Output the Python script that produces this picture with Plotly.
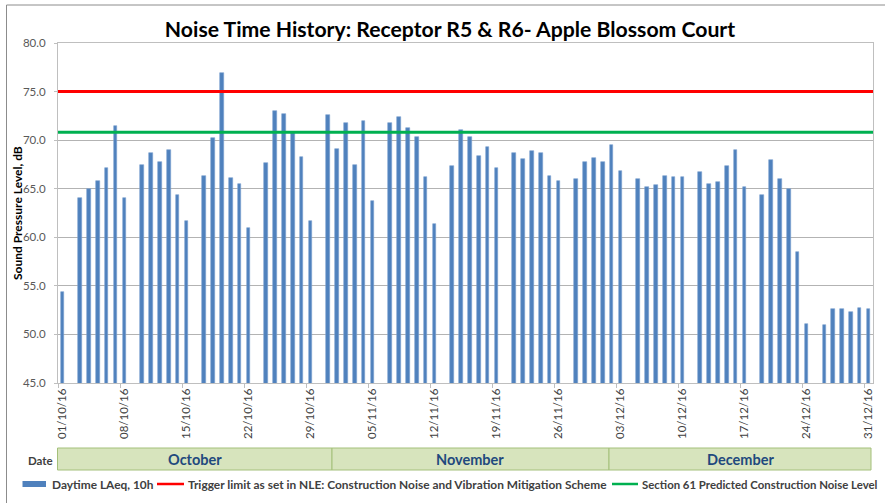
import pandas as pd
import plotly.graph_objects as go

# ---------------- data ----------------
dates = pd.date_range("2016-10-01", "2016-12-31", freq="D")
laeq_values = [
    54.4, None, 64.0, 65.0, 65.8, 67.1, 71.5, 64.0, None, 67.4,
    68.7, 67.7, 69.0, 64.4, 61.7, None, 66.3, 70.2, 76.9, 66.1,
    65.5, 61.0, None, 67.6, 73.0, 72.7, 70.7, 68.3, 61.7, None,
    72.6, 69.1, 71.8, 67.4, 72.0, 63.7, None, 71.8, 72.4, 71.3,
    70.3, 66.2, 61.4, None, 67.3, 71.0, 70.3, 68.4, 69.3, 67.1,
    None, 68.7, 68.1, 68.9, 68.7, 66.3, 65.8, None, 66.0, 67.8,
    68.2, 67.8, 69.5, 66.8, None, 66.0, 65.2, 65.4, 66.3, 66.2,
    66.2, None, 66.7, 65.5, 65.7, 67.3, 69.0, 65.2, None, 64.4,
    68.0, 66.0, 65.0, 58.5, 51.1, None, 51.0, 52.6, 52.6, 52.3,
    52.7, 52.6,
]
TRIGGER_LIMIT = 75.0
SECTION61_LEVEL = 70.8

tick_dates = ["2016-10-01", "2016-10-08", "2016-10-15", "2016-10-22", "2016-10-29",
              "2016-11-05", "2016-11-12", "2016-11-19", "2016-11-26", "2016-12-03",
              "2016-12-10", "2016-12-17", "2016-12-24", "2016-12-31"]
tick_labels = ["01/10/16", "08/10/16", "15/10/16", "22/10/16", "29/10/16",
               "05/11/16", "12/11/16", "19/11/16", "26/11/16", "03/12/16",
               "10/12/16", "17/12/16", "24/12/16", "31/12/16"]

months = ["October", "November", "December"]
series_names = ["Daytime LAeq, 10h",
                "Trigger limit as set in NLE: Construction Noise and Vibration Mitigation Scheme",
                "Section 61 Predicted Construction Noise Level"]

# ---------------- layout helpers ----------------
W, H = 885, 503
L, R, T, B = 58, 873, 43, 383
FONT = "Lato, 'Open Sans', sans-serif"


def px(x):
    return (x - L) / (R - L)


def py(y):
    return (B - y) / (B - T)


DAY_MS = 86400000

fig = go.Figure()
fig.add_trace(go.Bar(
    x=dates, y=laeq_values, name=series_names[0],
    width=0.4 * DAY_MS,
    marker=dict(color="#4F81BD", line=dict(color="#7A9FD0", width=0.6)),
    showlegend=False,
))

shapes = []
# threshold lines spanning the full plot width
shapes.append(dict(type="line", xref="paper", yref="y", x0=0, x1=1,
                   y0=TRIGGER_LIMIT, y1=TRIGGER_LIMIT,
                   line=dict(color="#FF0000", width=3)))
shapes.append(dict(type="line", xref="paper", yref="y", x0=0, x1=1,
                   y0=SECTION61_LEVEL, y1=SECTION61_LEVEL,
                   line=dict(color="#00B050", width=3)))

# outer chart border
shapes.append(dict(type="rect", xref="paper", yref="paper",
                   x0=px(6.5), x1=px(900), y0=py(5), y1=py(520),
                   line=dict(color="#8C8C8C", width=1), fillcolor="rgba(0,0,0,0)",
                   layer="below"))

# month boxes
month_edges = [57.5, 332, 609, 871]
annotations = []
for i, m in enumerate(months):
    shapes.append(dict(type="rect", xref="paper", yref="paper",
                       x0=px(month_edges[i]), x1=px(month_edges[i + 1]),
                       y0=py(470), y1=py(448),
                       fillcolor="#D7E4BD", line=dict(color="#A4C07A", width=1)))
    annotations.append(dict(xref="paper", yref="paper",
                            x=px((month_edges[i] + month_edges[i + 1]) / 2), y=py(459),
                            text=f"<b>{m}</b>", showarrow=False,
                            font=dict(family=FONT, size=14.5, color="#1F497D"),
                            xanchor="center", yanchor="middle"))

annotations.append(dict(xref="paper", yref="paper", x=px(40.5), y=py(460),
                        text="<b>Date</b>", showarrow=False,
                        font=dict(family=FONT, size=11.5, color="#404040"),
                        xanchor="center", yanchor="middle"))

# y axis title
annotations.append(dict(xref="paper", yref="paper", x=px(17), y=py(213),
                        text="<b>Sound Pressure Level, dB</b>", showarrow=False,
                        textangle=-90,
                        font=dict(family=FONT, size=12, color="#000000"),
                        xanchor="center", yanchor="middle"))

# custom legend
LEG_Y = 484
shapes.append(dict(type="rect", xref="paper", yref="paper",
                   x0=px(22.5), x1=px(46), y0=py(487), y1=py(481),
                   fillcolor="#4F81BD", line=dict(width=0)))
shapes.append(dict(type="line", xref="paper", yref="paper",
                   x0=px(157), x1=px(184), y0=py(LEG_Y), y1=py(LEG_Y),
                   line=dict(color="#FF0000", width=2.5)))
shapes.append(dict(type="line", xref="paper", yref="paper",
                   x0=px(612), x1=px(638), y0=py(LEG_Y), y1=py(LEG_Y),
                   line=dict(color="#00B050", width=2.5)))
legend_text_x = [50, 186, 640]
legend_font_sizes = [11.9, 11.9, 11.4]
for name, xx, fs in zip(series_names, legend_text_x, legend_font_sizes):
    annotations.append(dict(xref="paper", yref="paper", x=px(xx), y=py(LEG_Y),
                            text=f"<b>{name}</b>", showarrow=False,
                            font=dict(family=FONT, size=fs, color="#404040"),
                            xanchor="left", yanchor="middle"))

fig.update_layout(
    width=W, height=H,
    margin=dict(l=L, r=W - R, t=T, b=H - B, pad=0),
    paper_bgcolor="white", plot_bgcolor="white",
    title=dict(text="<b>Noise Time History: Receptor R5 &amp; R6- Apple Blossom Court</b>",
               x=450 / W, xanchor="center", y=1 - 30 / H, yanchor="middle",
               font=dict(family=FONT, size=21.2, color="#000000")),
    shapes=shapes, annotations=annotations,
    bargap=0, showlegend=False,
    xaxis=dict(
        type="date",
        range=["2016-09-30 12:00", "2016-12-31 12:00"],
        tickmode="array", tickvals=tick_dates, ticktext=tick_labels,
        tickangle=-90, ticks="",
        tickfont=dict(family=FONT, size=11.5, color="#404040"),
        showgrid=False, zeroline=False,
        showline=True, linecolor="#BFBFBF", linewidth=1, mirror=True,
        minor=dict(ticks="outside", ticklen=4, tickcolor="#BFBFBF",
                   tick0="2016-09-30 12:00", dtick=7 * DAY_MS, showgrid=False),
    ),
    yaxis=dict(
        range=[45, 80], dtick=5, tick0=45, tickformat=".1f",
        tickfont=dict(family=FONT, size=11.5, color="#595959"),
        ticks="outside", ticklen=3, tickcolor="#BFBFBF",
        showgrid=True, gridcolor="#B3B3B3", gridwidth=1,
        zeroline=False,
        showline=True, linecolor="#BFBFBF", linewidth=1, mirror=True,
        ticklabelstandoff=6,
    ),
)

fig.write_html("out.html", config={"displayModeBar": False},
               post_script="document.body.style.margin='0';document.body.style.overflow='hidden';")
